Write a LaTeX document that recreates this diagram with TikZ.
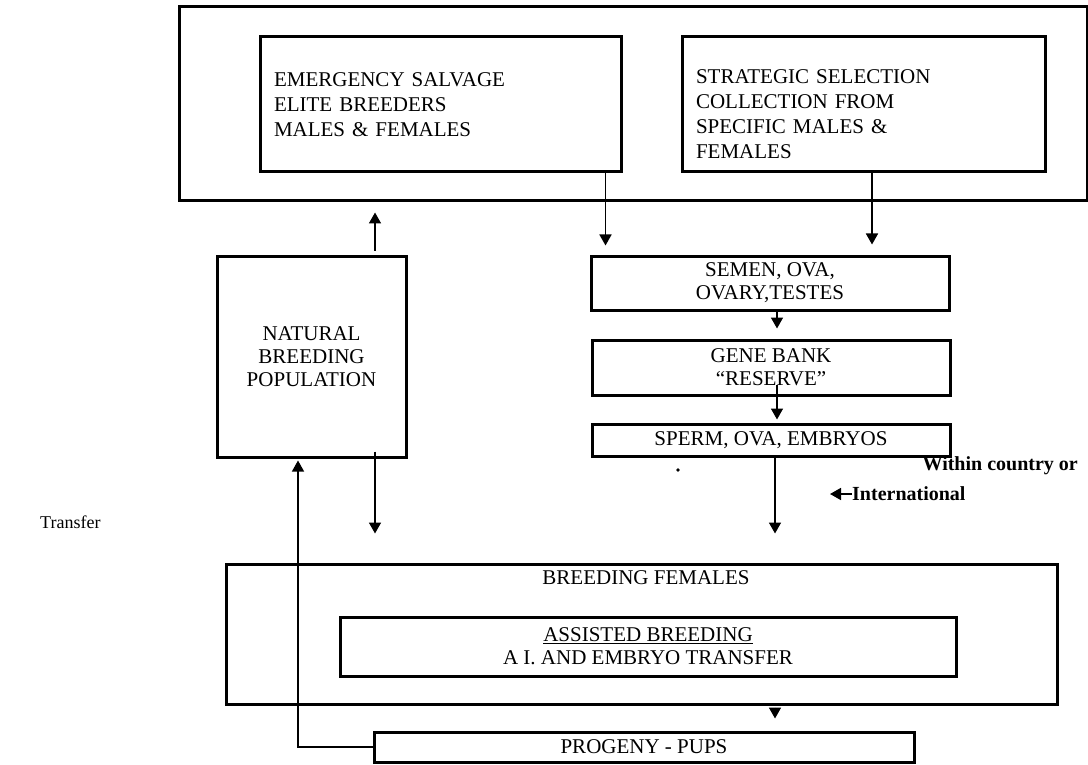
\documentclass[tikz,border=0pt]{standalone}
\usepackage{fontspec}
\setmainfont{Liberation Serif}
\usetikzlibrary{arrows.meta,positioning}

\begin{document}
\begin{tikzpicture}[
  x=1pt, y=-1pt,
  >={Triangle[length=11pt,width=12pt]},
  box/.style={draw, line width=3pt, inner sep=0pt, align=center, font=\fontsize{21}{23}\selectfont},
  lbox/.style={box, align=left, inner xsep=14pt, font=\fontsize{21}{25}\selectfont},
  txt/.style={inner sep=0pt, align=center, font=\fontsize{21}{23}\selectfont},
  arr/.style={->, line width=1.7pt},
  note/.style={inner sep=0pt, font=\bfseries\fontsize{20}{24}\selectfont}
]
\useasboundingbox (0,0) rectangle (1088,765);
% collection stage
\node[box, minimum width=908pt, minimum height=194pt] (top) at (633,104) {};
\node[lbox, minimum width=361pt, minimum height=135pt, text width=333pt] (emerg) at (440.5,104.5)
  {EMERGENCY SALVAGE\\ELITE BREEDERS\\MALES \& FEMALES};
\node[lbox, minimum width=363pt, minimum height=135pt, text width=335pt] (strat) at (863.5,104.5)
  {\rule{0pt}{34pt}STRATEGIC SELECTION\\COLLECTION FROM\\SPECIFIC MALES \&\\FEMALES};
% storage column
\node[box, minimum width=358pt, minimum height=54pt] (semen) at (770,283) {SEMEN, OVA,\\OVARY,TESTES};
\node[box, minimum width=358pt, minimum height=55pt] (gene) at (771,367.5) {GENE BANK\\``RESERVE''};
\node[box, minimum width=358pt, minimum height=32pt] (sperm) at (771,440) {SPERM, OVA, EMBRYOS};
\node[box, minimum width=189pt, minimum height=201pt] (nat) at (311.5,356.5) {NATURAL\\BREEDING\\POPULATION};
% breeding stage
\node[box, minimum width=831pt, minimum height=140pt] (breed) at (641.5,634) {};
\node[txt] (bf) at (646,578) {BREEDING FEMALES};
\node[box, minimum width=616pt, minimum height=59pt] (assist) at (648,646.5)
  {\underline{ASSISTED BREEDING}\\A I. AND EMBRYO TRANSFER};
\node[box, minimum width=540pt, minimum height=30pt] (prog) at (644,747) {PROGENY - PUPS};
% side texts
\node[note, anchor=east] (within) at (1078,466) {Within country or};
\node[note, anchor=west] (intl) at (852,494) {International};
\coordinate (intlend) at (830,494);
\node[txt, anchor=west, font=\fontsize{18}{22}\selectfont] (transfer) at (40,522) {Transfer};
\fill (678,470) circle (1.8pt);
% connectors
\draw[arr, shorten >=9pt] ([xshift=-17pt]emerg.south east) -- ([xshift=-17pt]emerg.south east |- semen.north);
\draw[arr, shorten >=10pt] ([xshift=8.5pt]strat.south) -- ([xshift=8.5pt]strat.south |- semen.north);
\draw[arr, shorten >=10pt] ([xshift=7pt]semen.south) -- ([xshift=7pt]semen.south |- gene.north);
\draw[arr, shorten >=3pt] ([xshift=6pt,yshift=12pt]gene.south) -- ([xshift=6pt]gene.south |- sperm.north);
\draw[arr, shorten >=29pt] ([xshift=4pt]sperm.south) -- ([xshift=4pt]sperm.south |- breed.north);
\draw[arr, shorten <=4pt, shorten >=10pt] ([xshift=63.5pt]nat.north) -- ([xshift=63.5pt]nat.north |- top.south);
\draw[arr, shorten >=29pt] ([xshift=63.5pt,yshift=7pt]nat.south) -- ([xshift=63.5pt]nat.south |- breed.north);
\draw[arr, shorten <=2pt, shorten >=12pt] ([xshift=133.5pt]breed.south) -- ([xshift=133.5pt]breed.south |- prog.north);
\draw[->, line width=1.2pt, shorten >=2pt] (prog.west) -| ([xshift=-13.5pt]nat.south);
\draw[arr] (intl.west) -- (intlend);
\end{tikzpicture}
\end{document}
